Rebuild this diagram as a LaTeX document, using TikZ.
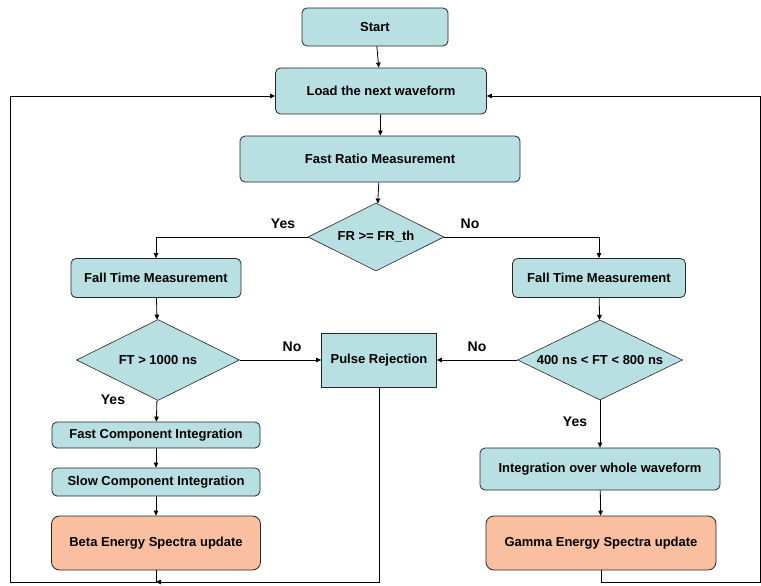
\documentclass[tikz,border=0pt]{standalone}
\usepackage{fontspec}
\setmainfont{Liberation Sans}
\usetikzlibrary{arrows.meta}
\usetikzlibrary{shapes.geometric}
\usetikzlibrary{calc}
\definecolor{procfill}{RGB}{184,223,226}
\definecolor{updfill}{RGB}{250,191,160}
\tikzset{
    proc/.style={draw=black!85,line width=0.8pt,fill=procfill,rounded corners=5pt,
        inner sep=0pt,font=\fontsize{13}{15}\selectfont\bfseries},
    update/.style={proc,fill=updfill,rounded corners=8pt},
    reject/.style={proc,rounded corners=0pt},
    decision/.style={diamond,shape aspect=2,draw=black!85,line width=0.6pt,fill=procfill,inner sep=0pt,
        font=\fontsize{13}{15}\selectfont\bfseries},
    flow/.style={line width=0.8pt,-{Triangle[length=5pt,width=4.5pt]}},
    link/.style={line width=0.8pt},
    answer/.style={font=\fontsize{14}{16}\selectfont\bfseries}
}

\begin{document}
\begin{tikzpicture}[x=1pt,y=-1pt]
    \useasboundingbox (0,0) rectangle (761,586);

    % main column
    \node[proc,minimum width=146pt,minimum height=38pt] (start) at (375,27) {Start};
    \node[proc,minimum width=211pt,minimum height=46pt] (load) at (381,91) {Load the next waveform};
    \node[proc,minimum width=280pt,minimum height=46pt] (frm) at (380,159) {Fast Ratio Measurement};
    \node[decision,minimum width=136pt,minimum height=68pt] (frdec) at (376,237) {FR >= FR\_th};

    % left branch
    \node[proc,minimum width=170pt,minimum height=39pt] (ftl) at (156,278) {Fall Time Measurement};
    \node[decision,minimum width=163pt,minimum height=81pt] (ftdec) at (158,360) {FT > 1000 ns};
    \node[proc,minimum width=208pt,minimum height=26pt] (fci) at (156,435) {Fast Component Integration};
    \node[proc,minimum width=208pt,minimum height=28pt] (sci) at (156,482) {Slow Component Integration};
    \node[update,minimum width=209pt,minimum height=54pt] (beta) at (156,543) {Beta Energy Spectra update};

    % middle
    \node[reject,minimum width=115pt,minimum height=54pt] (rej) at (379,360) {Pulse Rejection};

    % right branch
    \node[proc,minimum width=173pt,minimum height=39pt] (ftr) at (599,278) {Fall Time Measurement};
    \node[decision,minimum width=165pt,minimum height=80pt] (wndec) at (600,360) {400 ns < FT < 800 ns};
    \node[proc,minimum width=240pt,minimum height=42pt] (iow) at (600,469) {Integration over whole waveform};
    \node[update,minimum width=230pt,minimum height=54pt] (gamma) at (601,543) {Gamma Energy Spectra update};

    % labels
    \node[answer] (yes1) at (283,224) {Yes};
    \node[answer] (no1) at (470,224) {No};
    \node[answer] (no2) at (292,347) {No};
    \node[answer] (no3) at (477,347) {No};
    \node[answer] (yes2) at (113,400) {Yes};
    \node[answer] (yes3) at (575,422) {Yes};

    % loop corners
    \coordinate (jl) at (156,582);
    \coordinate (cl) at (10,582);
    \coordinate (clu) at (10,96);
    \coordinate (cr) at (760,582);
    \coordinate (cru) at (760,96);

    \draw[flow] (start) -- (load);
    \draw[flow] (load) -- (frm);
    \draw[flow] (frm) -- (frdec);
    \draw[flow] (frdec.west) -| (ftl.north);
    \draw[flow] (frdec.east) -| (ftr.north);
    \draw[flow] (ftl) -- (ftdec);
    \draw[flow] (ftr) -- (wndec);
    \draw[flow] (ftdec.east) -- (rej.west);
    \draw[flow] (wndec.west) -- (rej.east);
    \draw[flow] (ftdec) -- (fci);
    \draw[flow] (fci) -- (sci);
    \draw[flow] (sci) -- (beta);
    \draw[flow] (wndec) -- (iow);
    \draw[flow] (iow) -- (gamma);

    % back to the next waveform
    \draw[flow] (rej.south) |- (jl);
    \draw[link] (beta.south) -- (jl) -- (cl) -- (clu);
    \draw[flow] (clu) -- (load.west |- clu);
    \draw[link] (gamma.south) |- (cr) -- (cru);
    \draw[flow] (cru) -- (load.east |- cru);
\end{tikzpicture}
\end{document}
